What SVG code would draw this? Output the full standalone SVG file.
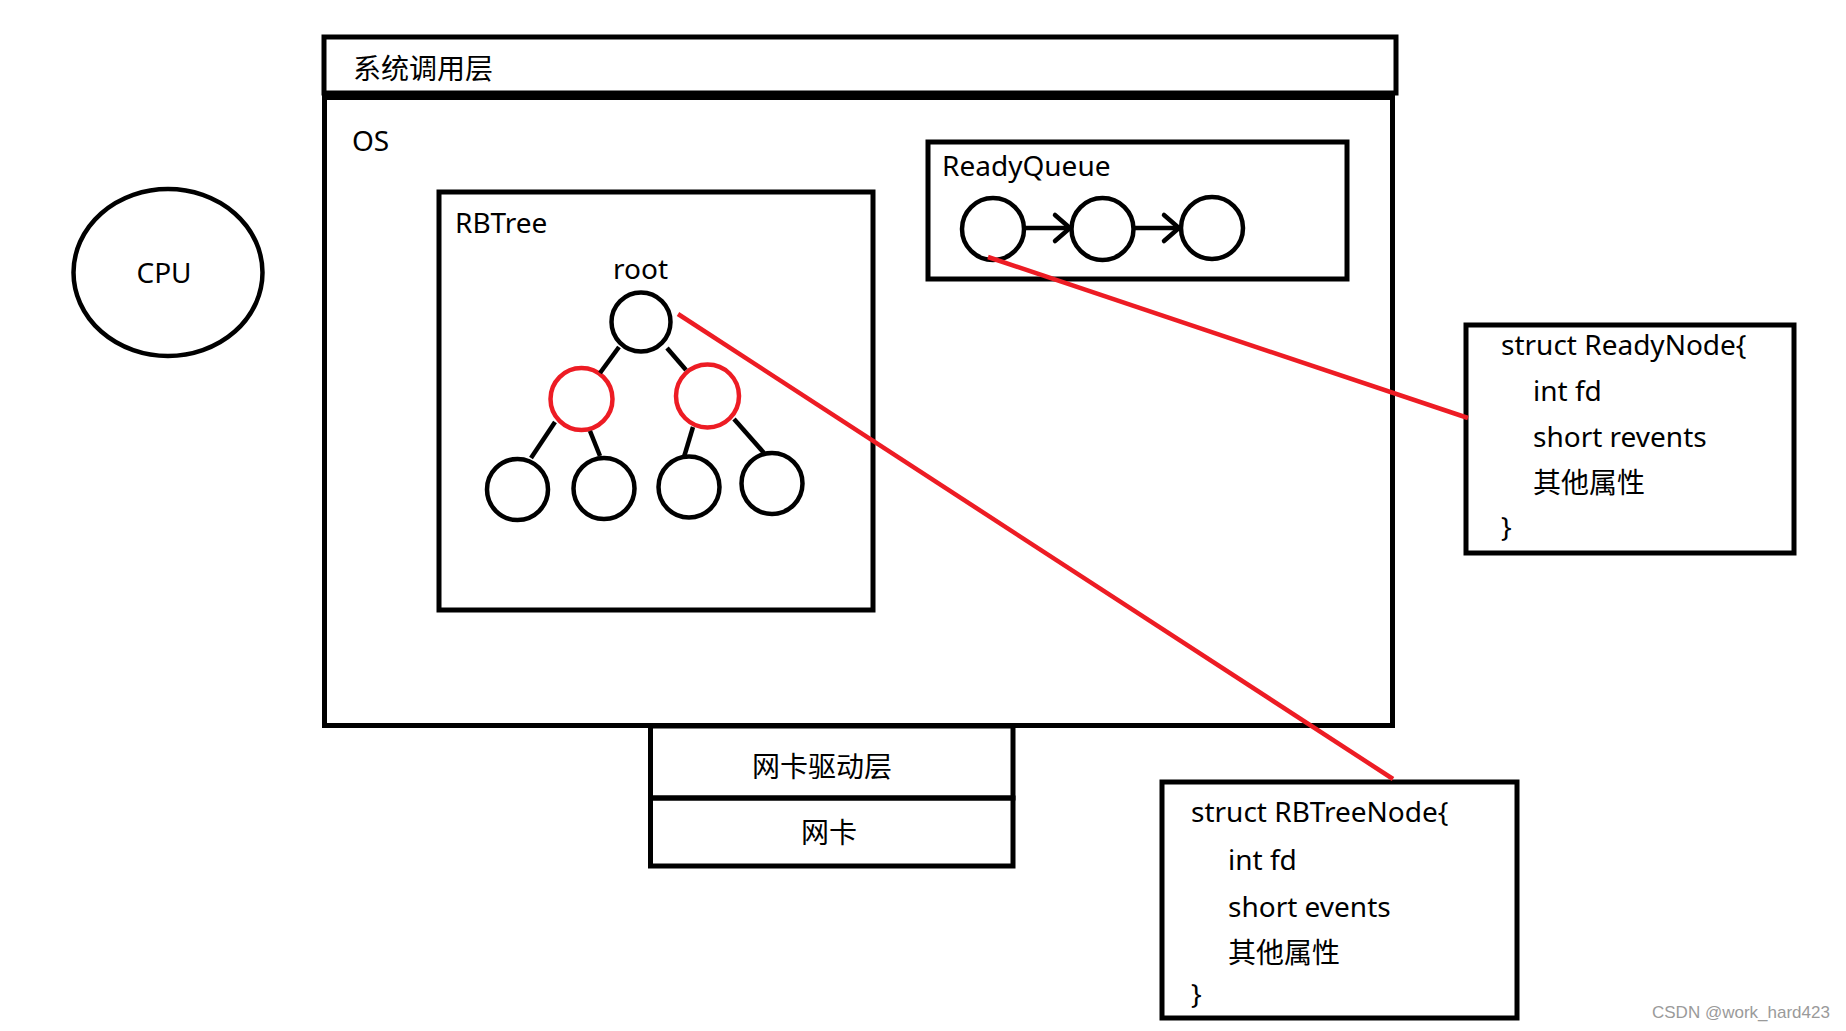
<svg xmlns="http://www.w3.org/2000/svg" width="1846" height="1031" viewBox="0 0 1846 1031">
  <defs>
    <style>
      .box { fill: none; stroke: #000; stroke-width: 5; }
      .node { fill: none; stroke: #000; stroke-width: 4.5; }
      .red-node { fill: none; stroke: #ed1c24; stroke-width: 4.5; }
      .edge { stroke: #000; stroke-width: 4.5; fill: none; }
      .link { stroke: #ed1c24; stroke-width: 4.5; fill: none; }
      .t { font-family: "Noto Sans", "Open Sans", "Noto Sans CJK SC", sans-serif; font-size: 28px; fill: #000; }
      .c { text-anchor: middle; }
      .wm { font-family: "Liberation Sans", Arial, sans-serif; font-size: 17px; fill: #9a9a9a; }
    </style>
    <marker id="chev" markerUnits="userSpaceOnUse" markerWidth="20" markerHeight="32" refX="16" refY="15" orient="auto" overflow="visible">
      <path d="M1,2 L16,15 L1,28" fill="none" stroke="#000" stroke-width="4.5" stroke-linecap="round" stroke-linejoin="miter"/>
    </marker>
  </defs>
  <rect width="1846" height="1031" fill="#fff"/>

  <g id="cpu">
    <ellipse class="node" cx="168" cy="272.5" rx="94.5" ry="83.5" stroke-width="5"/>
    <text class="t c" x="164" y="283">CPU</text>
  </g>

  <g id="syscall-layer">
    <rect class="box" x="324" y="37" width="1072" height="56"/>
    <text class="t" x="353" y="79">系统调用层</text>
  </g>

  <g id="os">
    <rect class="box" x="324.5" y="97.5" width="1068" height="628"/>
    <text class="t" x="352" y="151">OS</text>
  </g>

  <g id="rbtree">
    <rect class="box" x="439" y="192" width="434" height="418" stroke-width="4.5"/>
    <text class="t" x="455" y="233">RBTree</text>
    <text class="t c" x="640.5" y="279">root</text>
    <g id="rb-root"><circle class="node" cx="641" cy="322" r="29.5"/></g>
    <g id="rb-left"><circle class="red-node" cx="581.5" cy="399" r="31"/></g>
    <g id="rb-right"><circle class="red-node" cx="707.5" cy="396" r="31.5"/></g>
    <g id="rb-leaf1"><circle class="node" cx="517.5" cy="489.5" r="30.5"/></g>
    <g id="rb-leaf2"><circle class="node" cx="604" cy="488.5" r="30.5"/></g>
    <g id="rb-leaf3"><circle class="node" cx="689" cy="487" r="30.5"/></g>
    <g id="rb-leaf4"><circle class="node" cx="772" cy="483.5" r="30.5"/></g>
  </g>

  <g id="readyqueue">
    <rect class="box" x="928" y="142" width="419" height="137" stroke-width="4.5"/>
    <text class="t" x="942" y="176">ReadyQueue</text>
    <g id="rq-1"><circle class="node" cx="993" cy="229" r="31"/></g>
    <g id="rq-2"><circle class="node" cx="1102.5" cy="229" r="31"/></g>
    <g id="rq-3"><circle class="node" cx="1212" cy="228" r="31"/></g>
  </g>

  <g id="readynode">
    <rect class="box" x="1466" y="325" width="328" height="228"/>
    <text class="t" x="1501" y="355">struct ReadyNode{</text>
    <text class="t" x="1533" y="401">int fd</text>
    <text class="t" x="1533" y="447">short revents</text>
    <text class="t" x="1533" y="493">其他属性</text>
    <text class="t" x="1501" y="537">}</text>
  </g>

  <g id="rbtreenode">
    <rect class="box" x="1162" y="782" width="355" height="236"/>
    <text class="t" x="1191" y="822">struct RBTreeNode{</text>
    <text class="t" x="1228" y="870">int fd</text>
    <text class="t" x="1228" y="917">short events</text>
    <text class="t" x="1228" y="963">其他属性</text>
    <text class="t" x="1191" y="1004">}</text>
  </g>

  <g id="nic-driver">
    <rect class="box" x="650.5" y="726" width="362.5" height="72"/>
    <text class="t c" x="822" y="777">网卡驱动层</text>
  </g>

  <g id="nic">
    <rect class="box" x="650.5" y="798" width="362.5" height="68"/>
    <text class="t c" x="829" y="843">网卡</text>
  </g>

  <g id="connectors">
    <line class="edge" x1="619" y1="347" x2="600" y2="373"/>
    <line class="edge" x1="667" y1="348" x2="686" y2="370"/>
    <line class="edge" x1="555" y1="422" x2="531" y2="458"/>
    <line class="edge" x1="590" y1="431" x2="600" y2="456"/>
    <line class="edge" x1="693" y1="427" x2="684" y2="457"/>
    <line class="edge" x1="734" y1="419" x2="764" y2="453"/>
    <line class="edge" x1="1024" y1="228" x2="1070" y2="228" marker-end="url(#chev)"/>
    <line class="edge" x1="1133" y1="228" x2="1179" y2="228" marker-end="url(#chev)"/>
    <line class="link" x1="678" y1="314" x2="1393" y2="779"/>
    <line class="link" x1="988" y1="257" x2="1468" y2="418"/>
  </g>

  <text class="wm" x="1652" y="1018">CSDN @work_hard423</text>
</svg>
